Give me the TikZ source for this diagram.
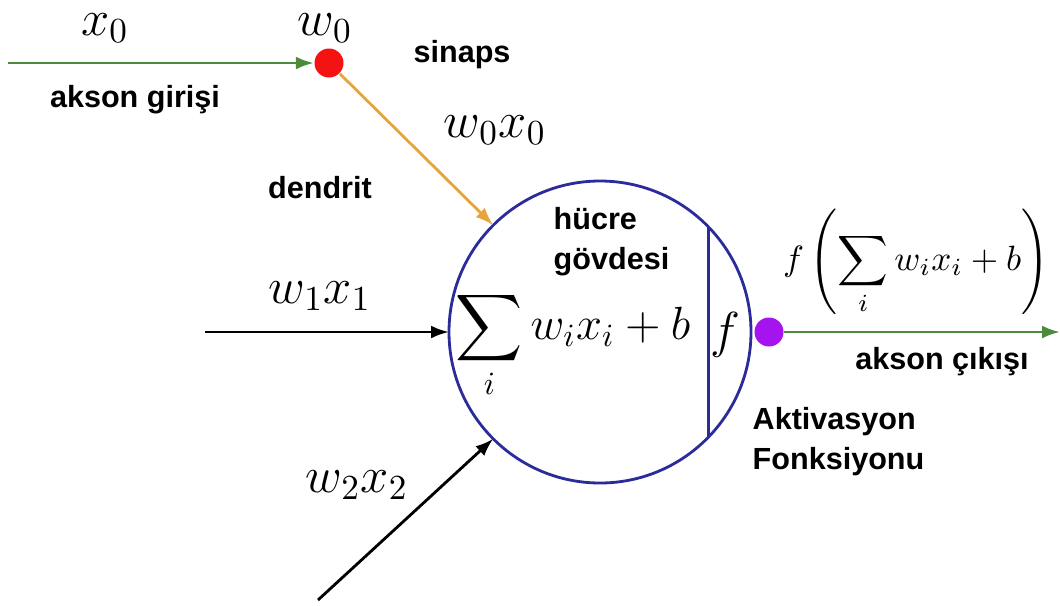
\documentclass[tikz,border=0pt]{standalone}
\usepackage{amsmath}
\usepackage{fontspec}
\setsansfont{Liberation Sans}
\usetikzlibrary{arrows.meta,positioning}
\definecolor{axongreen}{HTML}{4C8A3C}
\definecolor{dendorange}{HTML}{E8A43A}
\definecolor{synred}{HTML}{F51212}
\definecolor{actpurple}{HTML}{A514EE}
\definecolor{cellblue}{HTML}{2B2B99}
\tikzset{
  lbl/.style={font=\sffamily\bfseries\fontsize{8.7}{11.4}\selectfont, inner sep=0pt},
  mth/.style={font=\Large, inner sep=0pt},
  syndot/.style={circle, inner sep=0pt, minimum size=2.9mm},
  arr/.style={-{Latex[length=1.8mm,width=1.3mm]}, line width=0.8pt}
}

\begin{document}
\begin{tikzpicture}
\useasboundingbox (0,0) rectangle (10.6,6.05);
% Cell body
\node[draw=cellblue, line width=0.8pt, circle, minimum size=3.02cm, inner sep=0pt, outer sep=0pt] (body) at (6.00,2.73) {};
\draw[cellblue, line width=0.8pt] (body.44) -- (body.-44);
\node[mth, scale=0.92, transform shape] (sum) at (5.73,2.60) {$\displaystyle\sum_i w_i x_i + b$};
\node[mth] (act) at (7.25,2.70) {$f$};
\node[lbl, align=left, anchor=west] (bodylbl) at (5.53,3.63) {hücre\\gövdesi};
% Synapse and output dots
\node[syndot, fill=synred] (syn) at (3.29,5.42) {};
\node[syndot, fill=actpurple] (out) at (7.69,2.73) {};
% Free ends
\coordinate (in0) at (0.08,5.42);
\coordinate (in1) at (2.05,2.73);
\coordinate (in2) at (3.18,0.05);
\coordinate (axend) at (10.6,2.73);
% Connectors
\draw[arr, axongreen] (in0) -- (syn);
\draw[arr, dendorange] (syn) -- (body.135);
\draw[arr, black] (in1) -- (body.west);
\draw[arr, black] (in2) -- (body.225);
\draw[arr, axongreen] (out) -- (axend);
% Labels
\node[mth] (x0) at (1.05,5.77) {$x_0$};
\node[mth] (w0) at (3.25,5.77) {$w_0$};
\node[lbl] (synlbl) at (4.62,5.50) {sinaps};
\node[lbl] (axinlbl) at (1.35,5.05) {akson girişi};
\node[mth] (w0x0) at (4.95,4.75) {$w_0x_0$};
\node[lbl] (dendlbl) at (3.20,4.17) {dendrit};
\node[mth] (w1x1) at (3.20,3.09) {$w_1x_1$};
\node[mth] (w2x2) at (3.57,1.20) {$w_2x_2$};
\node[inner sep=0pt] (outf) at (9.16,3.43) {$\displaystyle f\left(\sum_i w_i x_i + b\right)$};
\node[lbl] (axoutlbl) at (9.42,2.43) {akson çıkışı};
\node[lbl, align=left, anchor=west] (actlbl) at (7.52,1.63) {Aktivasyon\\Fonksiyonu};
\end{tikzpicture}
\end{document}
